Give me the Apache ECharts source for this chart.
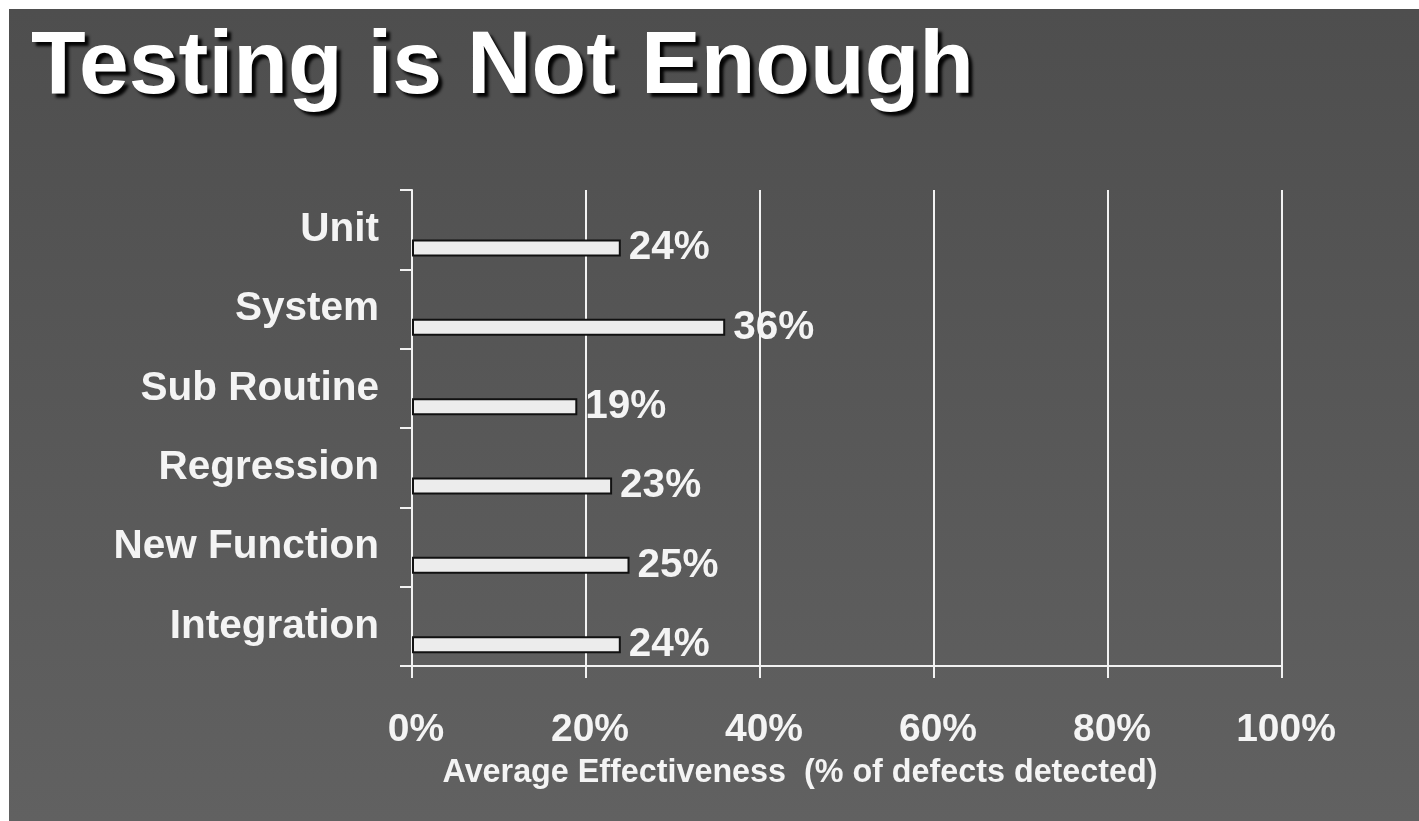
<!DOCTYPE html>
<html>
<head>
<meta charset="utf-8">
<script src="https://cdn.jsdelivr.net/npm/echarts@6/dist/echarts.min.js"></script>
<style>
  html, body { margin: 0; padding: 0; background: #ffffff; }
  #chart { position: absolute; left: 9px; top: 9px; width: 1410px; height: 812px; }
</style>
</head>
<body>
<div id="chart"></div>
<script>
const titleText = 'Testing is Not Enough';
const categories = ['Unit', 'System', 'Sub Routine', 'Regression', 'New Function', 'Integration'];
const effectiveness = [24, 36, 19, 23, 25, 24];
const xTicks = [0, 20, 40, 60, 80, 100];
const xAxisName = 'Average Effectiveness  (% of defects detected)';

const FONT = '"Liberation Sans", Arial, Helvetica, sans-serif';
const chart = echarts.init(document.getElementById('chart'), null, { renderer: 'canvas' });

chart.setOption({
  animation: false,
  backgroundColor: {
    type: 'linear', x: 0, y: 0, x2: 0, y2: 1,
    colorStops: [{ offset: 0, color: '#4e4e4e' }, { offset: 1, color: '#616161' }]
  },
  title: {
    text: titleText,
    left: 22,
    top: 14,
    padding: 0,
    textStyle: {
      fontFamily: FONT, fontWeight: 'bold', fontSize: 89.5, color: '#ffffff',
      textShadowColor: 'rgba(0,0,0,0.95)', textShadowOffsetX: 4, textShadowOffsetY: 4, textShadowBlur: 3
    }
  },
  grid: { left: 403, right: 137, top: 181, bottom: 155, containLabel: false },
  xAxis: {
    type: 'value',
    min: xTicks[0],
    max: xTicks[xTicks.length - 1],
    interval: xTicks[1] - xTicks[0],
    name: xAxisName,
    nameLocation: 'middle',
    nameGap: 91,
    nameTextStyle: {
      fontFamily: FONT, fontWeight: 'bold', fontSize: 32.3, color: '#f4f4f4',
      padding: [0, 94, 0, 0]
    },
    axisLine: { show: true, lineStyle: { color: '#f2f2f2', width: 2 } },
    axisTick: { show: true, length: 12, inside: false, lineStyle: { color: '#f2f2f2', width: 2 } },
    splitLine: { show: true, lineStyle: { color: '#f2f2f2', width: 2 } },
    axisLabel: {
      formatter: '{value}%', margin: 45,
      fontFamily: FONT, fontWeight: 'bold', fontSize: 39, color: '#f4f4f4',
      padding: [0, 0, 0, 8]
    }
  },
  yAxis: {
    type: 'category',
    data: categories,
    inverse: true,
    axisLine: { show: true, lineStyle: { color: '#f2f2f2', width: 2 } },
    axisTick: { show: true, length: 12, inside: false, alignWithLabel: false, lineStyle: { color: '#f2f2f2', width: 2 } },
    splitLine: { show: false },
    axisLabel: {
      margin: 33,
      fontFamily: FONT, fontWeight: 'bold', fontSize: 40.5, color: '#f4f4f4'
    }
  },
  series: [
    {
      // empty spacer series: pushes the real bars into the lower part of each band
      type: 'bar',
      name: 'spacer',
      silent: true,
      barWidth: 17,
      data: categories.map(() => null),
      itemStyle: { color: 'rgba(0,0,0,0)' }
    },
    {
      type: 'bar',
      name: 'Average Effectiveness',
      barWidth: 17,
      barGap: '116%',
      data: effectiveness,
      itemStyle: { color: '#ececec', borderColor: '#111111', borderWidth: 2 },
      label: {
        show: true, position: 'right', distance: 8,
        formatter: '{c}%',
        fontFamily: FONT, fontWeight: 'bold', fontSize: 40.5, color: '#f4f4f4'
      }
    }
  ]
});
</script>
</body>
</html>
